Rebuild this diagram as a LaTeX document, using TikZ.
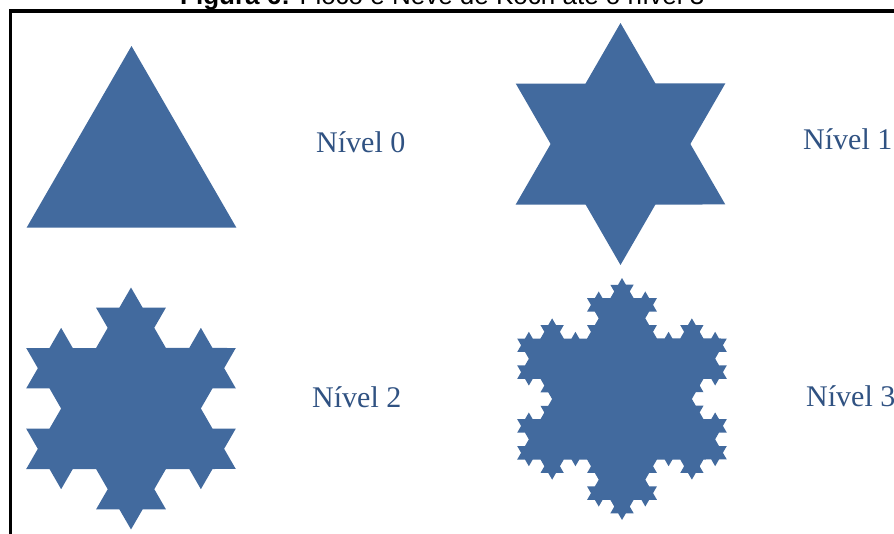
\documentclass[tikz,border=0pt]{standalone}
\usepackage{fontspec}
\setmainfont{Liberation Serif}
\newfontfamily\arialfont{Liberation Sans}
\usetikzlibrary{decorations.fractals}
\definecolor{kochblue}{RGB}{66,106,158}
\definecolor{labelblue}{RGB}{48,82,130}
\tikzset{
  flake/.style={fill=kochblue, draw=none, decoration=Koch snowflake},
  lvl/.style={text=labelblue, font=\fontsize{30}{33}\selectfont, inner sep=0pt, anchor=base west},
  frame/.style={line width=3.6pt, line join=miter, draw=black}
}
\begin{document}
\begin{tikzpicture}[x=1pt,y=-1pt]
\useasboundingbox (0,0) rectangle (894,533);
% title (cut off by the page top, as in the reference)
\node[anchor=base west, inner sep=0pt, font=\arialfont\fontsize{26}{29}\selectfont] (title) at (180,4) {\textbf{Figura 6:} Floco e Neve de Koch até o nível 3};
% frame
\draw[frame] (894,11) -- (10.3,11) -- (10.3,540);
% level 0
\coordinate (a0) at (131.5,46);
\coordinate (b0) at (236.3,227.5);
\coordinate (c0) at (26.7,227.5);
\fill[flake] (a0) -- (b0) -- (c0) -- cycle;
% level 1
\coordinate (a1) at (620.5,23);
\coordinate (b1) at (725.3,204.5);
\coordinate (c1) at (515.7,204.5);
\fill[flake] decorate{(a1) -- (b1) -- (c1) -- (a1)};
% level 2
\coordinate (a2) at (131,287.5);
\coordinate (b2) at (235.8,469);
\coordinate (c2) at (26.2,469);
\fill[flake] decorate{decorate{(a2) -- (b2) -- (c2) -- (a2)}};
% level 3
\coordinate (a3) at (622,278);
\coordinate (b3) at (726.8,459.5);
\coordinate (c3) at (517.2,459.5);
\fill[flake] decorate{decorate{decorate{(a3) -- (b3) -- (c3) -- (a3)}}};
% labels
\node[lvl] (n0) at (316,152) {Nível 0};
\node[lvl] (n1) at (803,149) {Nível 1};
\node[lvl] (n2) at (312,407) {Nível 2};
\node[lvl] (n3) at (806,406) {Nível 3};
\end{tikzpicture}
\end{document}
